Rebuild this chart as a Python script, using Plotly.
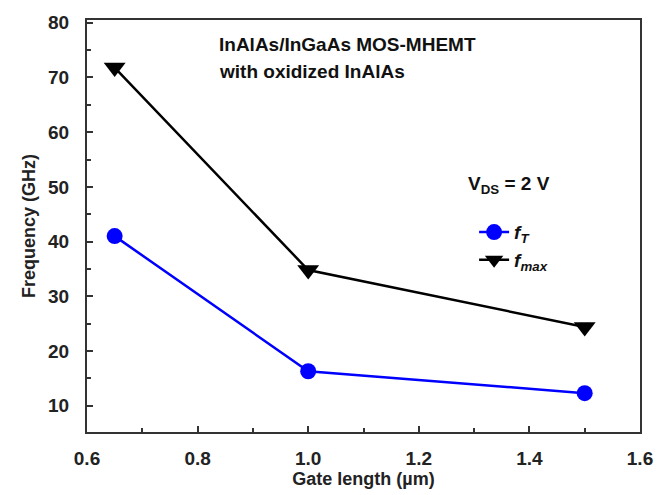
import plotly.graph_objects as go

gate_length = [0.65, 1.0, 1.5]
f_t = [41.0, 16.3, 12.3]
f_max = [71.8, 34.8, 24.4]

FONT = "Liberation Sans, Arial, sans-serif"

fig = go.Figure()
fig.add_trace(go.Scatter(
    x=gate_length, y=f_t, mode="lines+markers",
    name="<b><i>f<sub>T</sub></i></b>",
    line=dict(color="#0000ff", width=2.5),
    marker=dict(symbol="circle", size=16, color="#0000ff"),
))
fig.add_trace(go.Scatter(
    x=gate_length, y=f_max, mode="lines+markers",
    name="<b><i>f<sub>max</sub></i></b>",
    line=dict(color="#000000", width=2.5),
    marker=dict(symbol="triangle-down", size=19, color="#000000"),
))

axis_common = dict(
    showline=True, linecolor="#333333", linewidth=2, mirror=True,
    ticks="inside", ticklen=6, tickwidth=1.5, tickcolor="#333333",
    showgrid=False, zeroline=False,
    tickfont=dict(family=FONT, size=19, color="#222222"),
)

fig.update_xaxes(
    range=[0.6, 1.6], tickvals=[0.6, 0.8, 1.0, 1.2, 1.4, 1.6],
    ticktext=["<b>0.6</b>", "<b>0.8</b>", "<b>1.0</b>", "<b>1.2</b>", "<b>1.4</b>", "<b>1.6</b>"],
    minor=dict(dtick=0.1, tick0=0.6, ticks="inside", ticklen=4, tickcolor="#333333"),
    ticklabelstandoff=8,
    title=dict(text="<b>Gate length (µm)</b>", font=dict(family=FONT, size=18, color="#222222"), standoff=2),
    **axis_common,
)
fig.update_yaxes(
    range=[5.2, 80.5], tickvals=[10, 20, 30, 40, 50, 60, 70, 80],
    ticktext=["<b>%d</b>" % v for v in [10, 20, 30, 40, 50, 60, 70, 80]],
    minor=dict(dtick=5, tick0=0, ticks="inside", ticklen=4, tickcolor="#333333"),
    ticklabelstandoff=12,
    title=dict(text="<b>Frequency (GHz)</b>", font=dict(family=FONT, size=18, color="#222222"), standoff=8),
    **axis_common,
)

fig.add_annotation(
    xref="paper", yref="paper", x=0.235, y=0.94, xanchor="left", yanchor="middle",
    align="left", showarrow=False,
    text="<b>InAlAs/InGaAs MOS-MHEMT</b>",
    font=dict(family=FONT, size=19, color="#111111"),
)
fig.add_annotation(
    xref="paper", yref="paper", x=0.235, y=0.874, xanchor="left", yanchor="middle",
    align="left", showarrow=False,
    text="<b>with oxidized InAlAs</b>",
    font=dict(family=FONT, size=19, color="#111111"),
)
fig.add_annotation(
    xref="paper", yref="paper", x=0.685, y=0.60, xanchor="left", yanchor="middle",
    align="left", showarrow=False,
    text="<b>V<sub>DS</sub> = 2 V</b>",
    font=dict(family=FONT, size=19, color="#111111"),
)

fig.update_layout(
    width=665, height=495,
    margin=dict(l=87, r=16, t=20, b=61),
    plot_bgcolor="white", paper_bgcolor="white",
    font=dict(family=FONT, color="#111111"),
    legend=dict(
        x=0.70, y=0.531, xanchor="left", yanchor="top",
        bgcolor="rgba(0,0,0,0)",
        font=dict(family=FONT, size=19),
        tracegroupgap=2,
    ),
    showlegend=True,
)

fig.write_html("out.html")
